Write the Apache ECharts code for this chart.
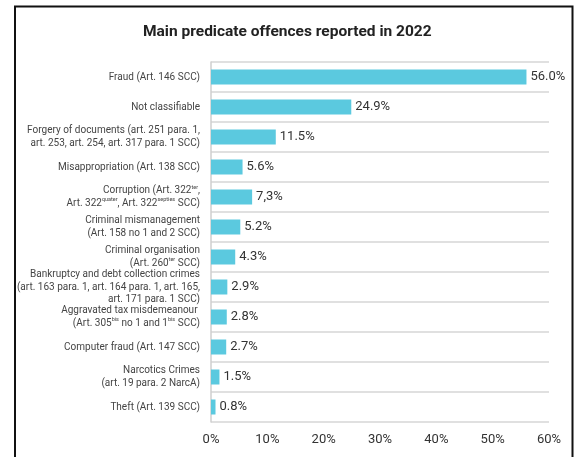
<!DOCTYPE html>
<html>
<head>
<meta charset="utf-8">
<script src="https://cdn.jsdelivr.net/npm/echarts@6/dist/echarts.min.js"></script>
<style>
  html, body { margin: 0; padding: 0; background: #fff; }
  #chart { width: 579px; height: 457px; }
</style>
</head>
<body>
<div id="chart"></div>
<script>
// Offence categories (top to bottom); {s|...} marks superscripts
const categories = [
  'Fraud (Art. 146 SCC)',
  'Not classifiable',
  'Forgery of documents (art. 251 para. 1,\nart. 253, art. 254, art. 317 para. 1 SCC)',
  'Misappropriation (Art. 138 SCC)',
  'Corruption (Art. 322{s|ter},\nArt. 322{s|quater}, Art. 322{s|septies} SCC)',
  'Criminal mismanagement\n(Art. 158 no 1 and 2 SCC)',
  'Criminal organisation\n(Art. 260{s|ter} SCC)',
  'Bankruptcy and debt collection crimes\n(art. 163 para. 1, art. 164 para. 1, art. 165,\nart. 171 para. 1 SCC)',
  'Aggravated tax misdemeanour \n(Art. 305{s|bis} no 1 and 1{s|bis} SCC)',
  'Computer fraud (Art. 147 SCC)',
  'Narcotics Crimes\n(art. 19 para. 2 NarcA)',
  'Theft (Art. 139 SCC)'
];
// Share of reported offences, in percent
const shares = [56.0, 24.9, 11.5, 5.6, 7.3, 5.2, 4.3, 2.9, 2.8, 2.7, 1.5, 0.8];
// Value labels as printed next to the bars
const shareLabels = ['56.0%', '24.9%', '11.5%', '5.6%', '7,3%', '5.2%', '4.3%', '2.9%', '2.8%', '2.7%', '1.5%', '0.8%'];
// Value axis ticks
const axisTicks = [0, 10, 20, 30, 40, 50, 60];

const chart = echarts.init(document.getElementById('chart'));
const font = 'Roboto, "Open Sans", sans-serif';

chart.setOption({
  animation: false,
  title: {
    text: 'Main predicate offences reported in 2022',
    left: 138,
    top: 19,
    textStyle: { fontFamily: font, fontSize: 15.5, fontWeight: 'bold', color: '#222' }
  },
  graphic: [{
    type: 'polyline',
    shape: { points: [[15, 457], [15, 6.5], [572.5, 6.5], [572.5, 457]] },
    style: { stroke: '#111', lineWidth: 2, fill: null },
    silent: true
  }],
  grid: { left: 211, right: 30, top: 62, bottom: 35, containLabel: false },
  xAxis: {
    type: 'value',
    min: axisTicks[0],
    max: axisTicks[axisTicks.length - 1],
    interval: 10,
    axisLine: { show: false },
    axisTick: { show: false },
    splitLine: { show: false },
    axisLabel: {
      fontFamily: font, fontSize: 13, color: '#333', margin: 11,
      formatter: v => v + '%'
    }
  },
  yAxis: {
    type: 'category',
    inverse: true,
    data: categories,
    axisLine: { show: true, lineStyle: { color: '#cfcfcf', width: 1.5 } },
    axisTick: { show: false },
    splitLine: { show: true, lineStyle: { color: '#d6d6d6', width: 1.5 } },
    axisLabel: {
      fontFamily: font, fontSize: 10, color: '#444', lineHeight: 12.5,
      margin: 11, align: 'right',
      rich: {
        s: { fontFamily: font, fontSize: 5.5, color: '#444', verticalAlign: 'top', lineHeight: 12.5 }
      }
    }
  },
  series: [{
    type: 'bar',
    data: shares,
    barWidth: 15,
    itemStyle: { color: '#5bc9df' },
    label: {
      show: true,
      position: 'right',
      distance: 4,
      fontFamily: font,
      fontSize: 13,
      color: '#333',
      formatter: p => shareLabels[p.dataIndex]
    }
  }]
});
</script>
</body>
</html>
